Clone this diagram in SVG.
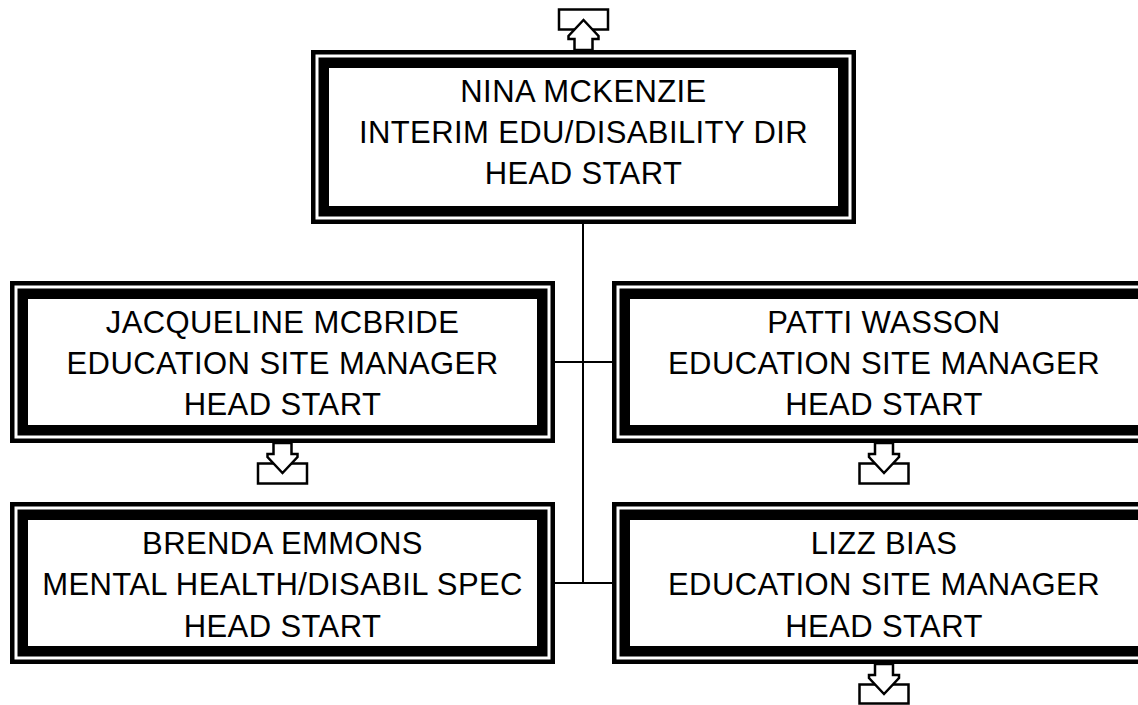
<svg xmlns="http://www.w3.org/2000/svg" width="1138" height="705" viewBox="0 0 1138 705">
<style>
.bk{fill:#000}
.wh{fill:#fff}
.t{font-family:"Liberation Sans",Arial,sans-serif;font-size:31px;letter-spacing:0.4px;fill:#000;text-anchor:middle}
.con{stroke:#000;stroke-width:2;fill:none}
.arr{fill:#fff;stroke:#000;stroke-width:2.5;stroke-linejoin:miter}
</style>
<rect x="0" y="0" width="1138" height="705" fill="#fff"/>
<g id="connectors">
<line class="con" x1="583" y1="224" x2="583" y2="584"/>
<line class="con" x1="555" y1="362" x2="612" y2="362"/>
<line class="con" x1="555" y1="583" x2="612" y2="583"/>
</g>
<g id="node-top">
<rect class="bk" x="311" y="50" width="545" height="174"/>
<rect class="wh" x="315.5" y="54.5" width="536" height="165"/>
<rect class="bk" x="318.5" y="57.5" width="530" height="159"/>
<rect class="wh" x="329" y="68" width="509" height="138"/>
<text class="t" x="583.5" y="102">NINA MCKENZIE</text>
<text class="t" x="583.5" y="143">INTERIM EDU/DISABILITY DIR</text>
<text class="t" x="583.5" y="184">HEAD START</text>
<rect class="arr" x="559" y="9.5" width="49" height="20"/>
<polygon class="arr" points="574.5,50 574.5,39 568.5,39 568.5,36 583.5,20 598.5,36 598.5,39 592.5,39 592.5,50"/>
</g>
<g id="node-mcbride">
<rect class="bk" x="10" y="281" width="545" height="162"/>
<rect class="wh" x="14.5" y="285.5" width="536" height="153"/>
<rect class="bk" x="17.5" y="288.5" width="530" height="147"/>
<rect class="wh" x="28" y="299" width="509" height="126"/>
<text class="t" x="282.5" y="333">JACQUELINE MCBRIDE</text>
<text class="t" x="282.5" y="374">EDUCATION SITE MANAGER</text>
<text class="t" x="282.5" y="415">HEAD START</text>
<rect class="arr" x="258" y="463.5" width="49" height="20"/>
<polygon class="arr" points="273.5,443 273.5,454 267.5,454 267.5,457 282.5,473 297.5,457 297.5,454 291.5,454 291.5,443"/>
</g>
<g id="node-wasson">
<rect class="bk" x="612" y="281" width="545" height="162"/>
<rect class="wh" x="616.5" y="285.5" width="536" height="153"/>
<rect class="bk" x="619.5" y="288.5" width="530" height="147"/>
<rect class="wh" x="630" y="299" width="509" height="126"/>
<text class="t" x="884" y="333">PATTI WASSON</text>
<text class="t" x="884" y="374">EDUCATION SITE MANAGER</text>
<text class="t" x="884" y="415">HEAD START</text>
<rect class="arr" x="859.5" y="463.5" width="49" height="20"/>
<polygon class="arr" points="875,443 875,454 869,454 869,457 884,473 899,457 899,454 893,454 893,443"/>
</g>
<g id="node-emmons">
<rect class="bk" x="10" y="502" width="545" height="162"/>
<rect class="wh" x="14.5" y="506.5" width="536" height="153"/>
<rect class="bk" x="17.5" y="509.5" width="530" height="147"/>
<rect class="wh" x="28" y="520" width="509" height="126"/>
<text class="t" x="282.5" y="553.5">BRENDA EMMONS</text>
<text class="t" x="282.5" y="595">MENTAL HEALTH/DISABIL SPEC</text>
<text class="t" x="282.5" y="636.5">HEAD START</text>
</g>
<g id="node-bias">
<rect class="bk" x="612" y="502" width="545" height="162"/>
<rect class="wh" x="616.5" y="506.5" width="536" height="153"/>
<rect class="bk" x="619.5" y="509.5" width="530" height="147"/>
<rect class="wh" x="630" y="520" width="509" height="126"/>
<text class="t" x="884" y="553.5">LIZZ BIAS</text>
<text class="t" x="884" y="595">EDUCATION SITE MANAGER</text>
<text class="t" x="884" y="636.5">HEAD START</text>
<rect class="arr" x="859.5" y="684.5" width="49" height="19"/>
<polygon class="arr" points="875,664 875,675 869,675 869,678 884,694 899,678 899,675 893,675 893,664"/>
</g>
</svg>
